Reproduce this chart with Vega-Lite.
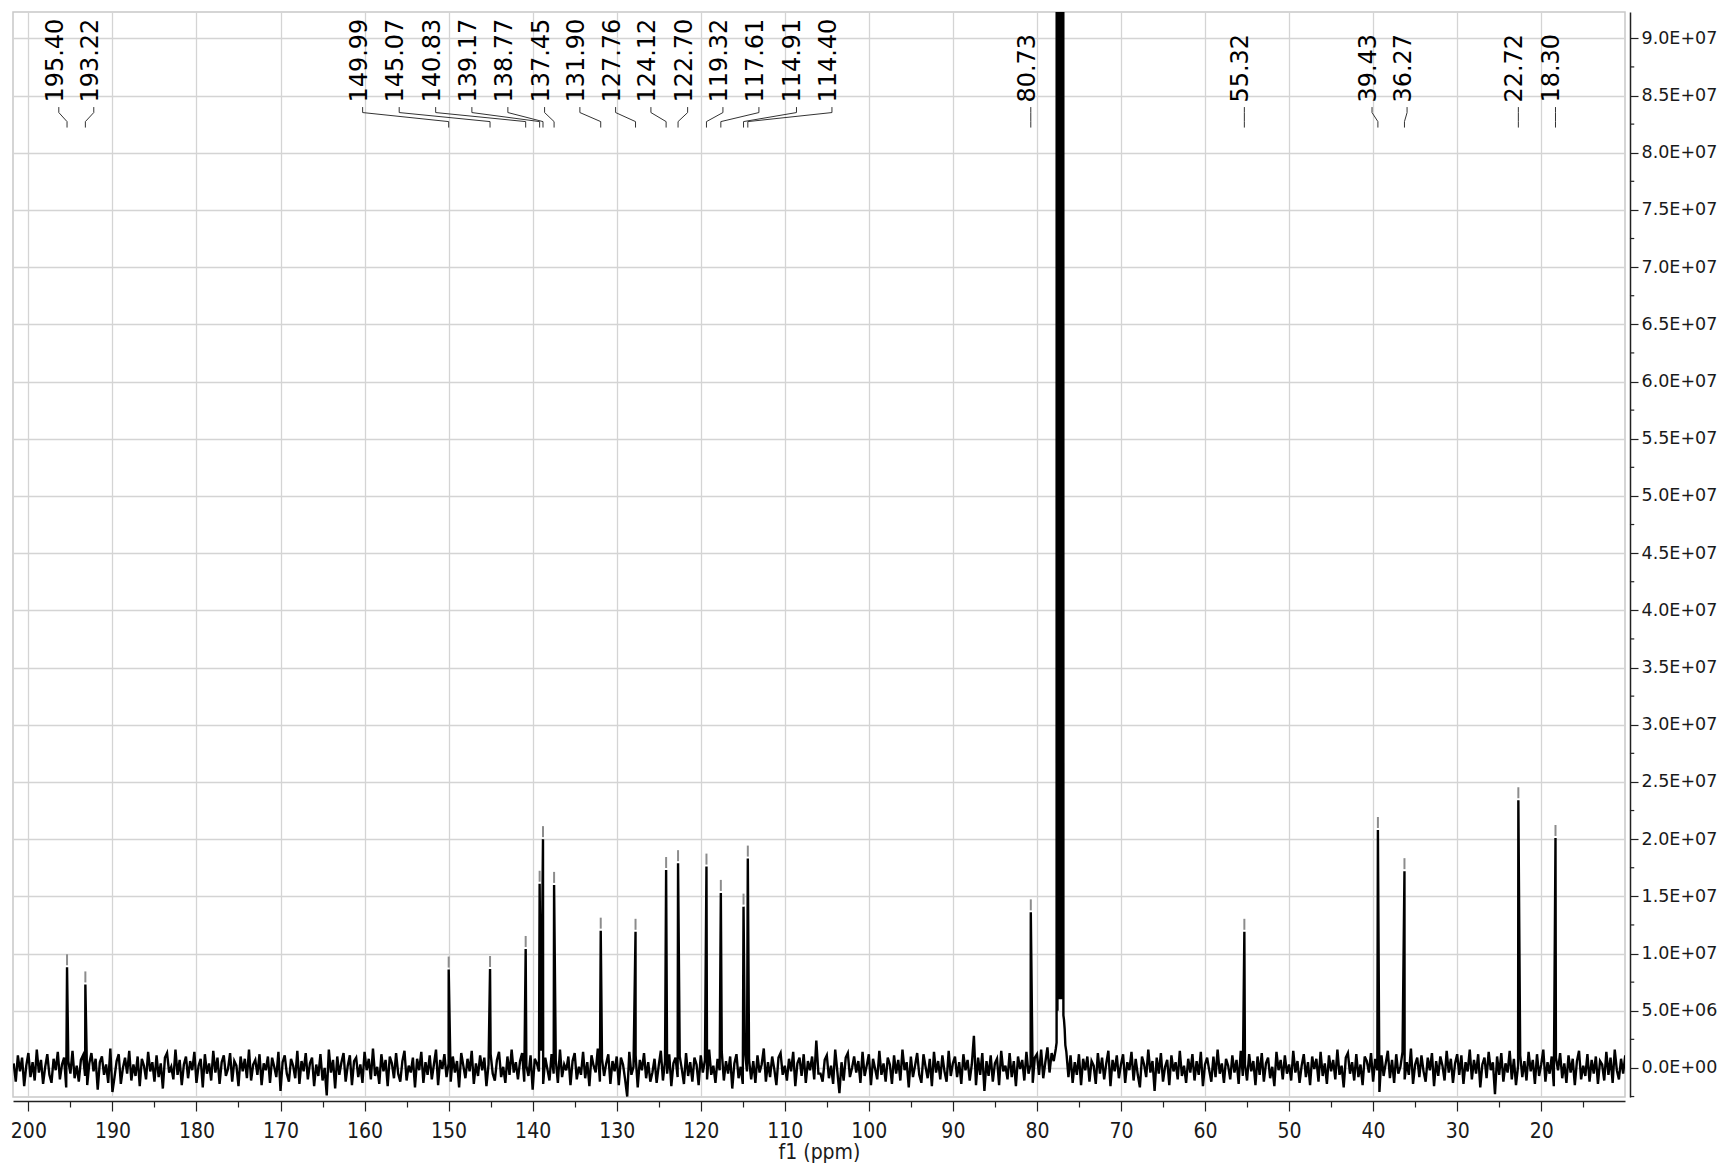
{
"$schema": "https://vega.github.io/schema/vega-lite/v6.json",
"width": 1612, "height": 1085,
"autosize": {"type": "none"},
"padding": {"left": 13, "top": 12, "right": 101, "bottom": 69},
"background": "white",
"config": {"view": {"stroke": "#c8c8c8", "strokeWidth": 1.5}},
"datasets": {
"spec": [
{"x":201.75,"y":0.4},{"x":201.5,"y":-1.2},{"x":201.25,"y":1.1},{"x":201,"y":-0.3},{"x":200.75,"y":0.9},{"x":200.5,"y":-1.6},{"x":200.25,"y":0.2},{"x":200,"y":1.3},{"x":199.75,"y":-0.8},{"x":199.5,"y":0.5},{"x":199.25,"y":-1.1},{"x":199,"y":1.6},{"x":198.75,"y":-0.4},{"x":198.5,"y":0.7},{"x":198.25,"y":-1.4},{"x":198,"y":0.1},
{"x":197.75,"y":1.2},{"x":197.5,"y":-0.6},{"x":197.25,"y":-1.3},{"x":197,"y":0.8},{"x":196.75,"y":-0.2},{"x":196.5,"y":1.4},{"x":196.25,"y":-1.0},{"x":196,"y":0.3},{"x":195.75,"y":0.9},{"x":195.5,"y":-1.7},{"x":195.25,"y":0.6},{"x":195,"y":-0.5},{"x":194.75,"y":1.5},{"x":194.5,"y":-0.9},{"x":194.25,"y":0.2},{"x":194,"y":-1.2},
{"x":193.75,"y":0.7},{"x":193.5,"y":1.1},{"x":193.25,"y":-0.7},{"x":193,"y":-1.5},{"x":192.75,"y":0.4},{"x":192.5,"y":1.3},{"x":192.25,"y":-0.3},{"x":192,"y":0.8},{"x":191.75,"y":-1.9},{"x":191.5,"y":0.5},{"x":191.25,"y":1.0},{"x":191,"y":-0.6},{"x":190.75,"y":0.3},{"x":190.5,"y":-1.3},{"x":190.25,"y":1.7},{"x":190,"y":-2.1},
{"x":189.75,"y":-0.8},{"x":189.5,"y":0.6},{"x":189.25,"y":1.2},{"x":189,"y":-1.4},{"x":188.75,"y":0.0},{"x":188.5,"y":0.9},{"x":188.25,"y":-0.5},{"x":188,"y":1.5},{"x":187.75,"y":-1.1},{"x":187.5,"y":0.3},{"x":187.25,"y":-0.7},{"x":187,"y":1.0},{"x":186.75,"y":-1.6},{"x":186.5,"y":0.8},{"x":186.25,"y":0.2},{"x":186,"y":-1.0},
{"x":185.75,"y":1.4},{"x":185.5,"y":-0.3},{"x":185.25,"y":0.5},{"x":185,"y":-1.2},{"x":184.75,"y":1.1},{"x":184.5,"y":-0.8},{"x":184.25,"y":0.4},{"x":184,"y":-1.8},{"x":183.75,"y":0.9},{"x":183.5,"y":1.3},{"x":183.25,"y":-0.4},{"x":183,"y":0.1},{"x":182.75,"y":-1.0},{"x":182.5,"y":1.6},{"x":182.25,"y":-0.6},{"x":182,"y":0.7},
{"x":181.75,"y":-1.5},{"x":181.5,"y":0.3},{"x":181.25,"y":1.0},{"x":181,"y":-0.9},{"x":180.75,"y":0.6},{"x":180.5,"y":-0.2},{"x":180.25,"y":1.4},{"x":180,"y":-1.3},{"x":179.75,"y":0.2},{"x":179.5,"y":0.8},{"x":179.25,"y":-1.7},{"x":179,"y":1.2},{"x":178.75,"y":-0.5},{"x":178.5,"y":0.4},{"x":178.25,"y":-1.1},{"x":178,"y":1.5},
{"x":177.75,"y":-0.4},{"x":177.5,"y":0.9},{"x":177.25,"y":-1.4},{"x":177,"y":0.5},{"x":176.75,"y":1.1},{"x":176.5,"y":-0.7},{"x":176.25,"y":-0.1},{"x":176,"y":1.3},{"x":175.75,"y":-1.2},{"x":175.5,"y":0.6},{"x":175.25,"y":0.2},{"x":175,"y":-1.6},{"x":174.75,"y":1.0},{"x":174.5,"y":-0.3},{"x":174.25,"y":0.8},{"x":174,"y":-0.9},
{"x":173.75,"y":1.6},{"x":173.5,"y":-1.1},{"x":173.25,"y":0.3},{"x":173,"y":0.7},{"x":172.75,"y":-0.6},{"x":172.5,"y":1.2},{"x":172.25,"y":-1.5},{"x":172,"y":0.4},{"x":171.75,"y":-0.2},{"x":171.5,"y":1.0},{"x":171.25,"y":-1.3},{"x":171,"y":0.9},{"x":170.75,"y":0.1},{"x":170.5,"y":-0.8},{"x":170.25,"y":1.4},{"x":170,"y":-2.0},
{"x":169.75,"y":0.5},{"x":169.5,"y":1.1},{"x":169.25,"y":-0.5},{"x":169,"y":-1.2},{"x":168.75,"y":0.8},{"x":168.5,"y":0.2},{"x":168.25,"y":-0.9},{"x":168,"y":1.5},{"x":167.75,"y":-1.4},{"x":167.5,"y":0.6},{"x":167.25,"y":-0.3},{"x":167,"y":1.3},{"x":166.75,"y":-1.0},{"x":166.5,"y":0.4},{"x":166.25,"y":0.9},{"x":166,"y":-1.6},
{"x":165.75,"y":0.3},{"x":165.5,"y":-0.7},{"x":165.25,"y":1.2},{"x":165,"y":-1.1},{"x":164.75,"y":0.0},{"x":164.5,"y":-2.4},{"x":164.25,"y":1.6},{"x":164,"y":-0.4},{"x":163.75,"y":0.7},{"x":163.5,"y":-1.8},{"x":163.25,"y":1.0},{"x":163,"y":-0.6},{"x":162.75,"y":0.5},{"x":162.5,"y":1.3},{"x":162.25,"y":-1.2},{"x":162,"y":0.2},
{"x":161.75,"y":1.1},{"x":161.5,"y":-1.5},{"x":161.25,"y":0.6},{"x":161,"y":0.9},{"x":160.75,"y":-0.8},{"x":160.5,"y":0.3},{"x":160.25,"y":-1.3},{"x":160,"y":1.4},{"x":159.75,"y":-0.2},{"x":159.5,"y":0.8},{"x":159.25,"y":-1.0},{"x":159,"y":1.7},{"x":158.75,"y":-0.7},{"x":158.5,"y":0.1},{"x":158.25,"y":-1.4},{"x":158,"y":1.2},
{"x":157.75,"y":-0.3},{"x":157.5,"y":0.7},{"x":157.25,"y":-1.6},{"x":157,"y":1.0},{"x":156.75,"y":0.4},{"x":156.5,"y":-0.9},{"x":156.25,"y":1.3},{"x":156,"y":-0.5},{"x":155.75,"y":-1.2},{"x":155.5,"y":0.6},{"x":155.25,"y":1.5},{"x":155,"y":-1.1},{"x":154.75,"y":0.2},{"x":154.5,"y":-0.4},{"x":154.25,"y":0.9},{"x":154,"y":-1.7},
{"x":153.75,"y":0.8},{"x":153.5,"y":-0.2},{"x":153.25,"y":1.4},{"x":153,"y":-1.3},{"x":152.75,"y":0.5},{"x":152.5,"y":-0.6},{"x":152.25,"y":1.1},{"x":152,"y":-1.0},{"x":151.75,"y":0.3},{"x":151.5,"y":1.6},{"x":151.25,"y":-1.5},{"x":151,"y":0.7},{"x":150.75,"y":-0.1},{"x":150.5,"y":1.2},{"x":150.25,"y":-0.8},{"x":150,"y":0.4},
{"x":149.75,"y":-1.2},{"x":149.5,"y":1.0},{"x":149.25,"y":-0.4},{"x":149,"y":0.6},{"x":148.75,"y":-1.7},{"x":148.5,"y":1.3},{"x":148.25,"y":0.2},{"x":148,"y":-0.9},{"x":147.75,"y":0.8},{"x":147.5,"y":-0.3},{"x":147.25,"y":1.5},{"x":147,"y":-1.4},{"x":146.75,"y":0.4},{"x":146.5,"y":-0.7},{"x":146.25,"y":1.1},{"x":146,"y":-0.2},
{"x":145.75,"y":0.9},{"x":145.5,"y":-1.6},{"x":145.25,"y":0.3},{"x":145,"y":1.2},{"x":144.75,"y":-0.5},{"x":144.5,"y":-1.1},{"x":144.25,"y":0.7},{"x":144,"y":1.4},{"x":143.75,"y":-0.8},{"x":143.5,"y":0.1},{"x":143.25,"y":-1.3},{"x":143,"y":1.0},{"x":142.75,"y":-0.6},{"x":142.5,"y":1.6},{"x":142.25,"y":-0.4},{"x":142,"y":0.5},
{"x":141.75,"y":-1.0},{"x":141.5,"y":0.6},{"x":141.25,"y":1.3},{"x":141,"y":-1.2},{"x":140.75,"y":0.2},{"x":140.5,"y":-0.7},{"x":140.25,"y":1.1},{"x":140,"y":-1.9},{"x":139.75,"y":0.8},{"x":139.5,"y":0.4},{"x":139.25,"y":-0.3},{"x":139,"y":1.5},{"x":138.75,"y":-1.4},{"x":138.5,"y":0.9},{"x":138.25,"y":-0.1},{"x":138,"y":-1.1},
{"x":137.75,"y":1.2},{"x":137.5,"y":-0.5},{"x":137.25,"y":0.7},{"x":137,"y":-1.3},{"x":136.75,"y":1.6},{"x":136.5,"y":-0.8},{"x":136.25,"y":0.3},{"x":136,"y":-0.2},{"x":135.75,"y":1.0},{"x":135.5,"y":-1.5},{"x":135.25,"y":0.6},{"x":135,"y":1.3},{"x":134.75,"y":-1.0},{"x":134.5,"y":0.1},{"x":134.25,"y":-0.6},{"x":134,"y":1.4},
{"x":133.75,"y":-0.9},{"x":133.5,"y":0.5},{"x":133.25,"y":-1.6},{"x":133,"y":1.1},{"x":132.75,"y":0.2},{"x":132.5,"y":-0.4},{"x":132.25,"y":1.7},{"x":132,"y":-1.2},{"x":131.75,"y":0.8},{"x":131.5,"y":-0.7},{"x":131.25,"y":0.4},{"x":131,"y":1.2},{"x":130.75,"y":-1.4},{"x":130.5,"y":0.6},{"x":130.25,"y":-0.3},{"x":130,"y":1.0},
{"x":129.75,"y":-1.5},{"x":129.5,"y":0.9},{"x":129.25,"y":0.3},{"x":129,"y":-1.0},{"x":128.75,"y":-2.5},{"x":128.5,"y":1.4},{"x":128.25,"y":-0.6},{"x":128,"y":0.1},{"x":127.75,"y":1.1},{"x":127.5,"y":-1.7},{"x":127.25,"y":0.7},{"x":127,"y":-0.2},{"x":126.75,"y":1.3},{"x":126.5,"y":-0.9},{"x":126.25,"y":0.5},{"x":126,"y":-1.2},
{"x":125.75,"y":-0.4},{"x":125.5,"y":0.8},{"x":125.25,"y":-1.3},{"x":125,"y":0.2},{"x":124.75,"y":1.5},{"x":124.5,"y":-1.1},{"x":124.25,"y":0.6},{"x":124,"y":-0.5},{"x":123.75,"y":1.2},{"x":123.5,"y":-1.6},{"x":123.25,"y":0.4},{"x":123,"y":0.9},{"x":122.75,"y":-0.8},{"x":122.5,"y":1.0},{"x":122.25,"y":-0.1},{"x":122,"y":-1.4},
{"x":121.75,"y":1.3},{"x":121.5,"y":-0.7},{"x":121.25,"y":0.5},{"x":121,"y":-1.2},{"x":120.75,"y":0.9},{"x":120.5,"y":0.3},{"x":120.25,"y":-1.5},{"x":120,"y":1.1},{"x":119.75,"y":-0.4},{"x":119.5,"y":0.7},{"x":119.25,"y":-1.0},{"x":119,"y":1.6},{"x":118.75,"y":-0.6},{"x":118.5,"y":0.2},{"x":118.25,"y":-1.3},{"x":118,"y":0.8},
{"x":117.75,"y":-0.2},{"x":117.5,"y":1.4},{"x":117.25,"y":-1.1},{"x":117,"y":0.6},{"x":116.75,"y":-0.5},{"x":116.5,"y":1.0},{"x":116.25,"y":-1.8},{"x":116,"y":0.4},{"x":115.75,"y":1.2},{"x":115.5,"y":-0.9},{"x":115.25,"y":0.1},{"x":115,"y":-1.4},{"x":114.75,"y":1.5},{"x":114.5,"y":-0.3},{"x":114.25,"y":0.7},{"x":114,"y":-1.0},
{"x":113.75,"y":0.6},{"x":113.5,"y":-1.3},{"x":113.25,"y":1.1},{"x":113,"y":-0.4},{"x":112.75,"y":0.3},{"x":112.5,"y":1.7},{"x":112.25,"y":-1.2},{"x":112,"y":0.5},{"x":111.75,"y":-0.8},{"x":111.5,"y":1.0},{"x":111.25,"y":-0.1},{"x":111,"y":-1.5},{"x":110.75,"y":0.9},{"x":110.5,"y":1.3},{"x":110.25,"y":-0.6},{"x":110,"y":0.2},
{"x":109.75,"y":-1.1},{"x":109.5,"y":0.8},{"x":109.25,"y":-0.3},{"x":109,"y":1.4},{"x":108.75,"y":-1.6},{"x":108.5,"y":0.4},{"x":108.25,"y":0.9},{"x":108,"y":-0.7},{"x":107.75,"y":1.2},{"x":107.5,"y":-1.3},{"x":107.25,"y":0.6},{"x":107,"y":-0.2},{"x":106.75,"y":1.0},{"x":106.5,"y":-1.0},{"x":106.25,"y":2.4},{"x":106,"y":-0.5},
{"x":105.75,"y":-0.5},{"x":105.5,"y":-1.2},{"x":105.25,"y":0.7},{"x":105,"y":1.1},{"x":104.75,"y":-0.9},{"x":104.5,"y":0.2},{"x":104.25,"y":-1.4},{"x":104,"y":1.6},{"x":103.75,"y":-0.3},{"x":103.5,"y":-2.2},{"x":103.25,"y":0.5},{"x":103,"y":-1.1},{"x":102.75,"y":0.9},{"x":102.5,"y":1.3},{"x":102.25,"y":-0.8},{"x":102,"y":0.0},
{"x":101.75,"y":1.0},{"x":101.5,"y":-0.4},{"x":101.25,"y":0.6},{"x":101,"y":-1.3},{"x":100.75,"y":1.4},{"x":100.5,"y":-0.7},{"x":100.25,"y":0.2},{"x":100,"y":1.2},{"x":99.75,"y":-1.5},{"x":99.5,"y":0.8},{"x":99.25,"y":-0.1},{"x":99,"y":-1.0},{"x":98.75,"y":1.5},{"x":98.5,"y":-0.6},{"x":98.25,"y":0.4},{"x":98,"y":-1.2},
{"x":97.75,"y":0.9},{"x":97.5,"y":0.3},{"x":97.25,"y":-1.4},{"x":97,"y":1.1},{"x":96.75,"y":-0.5},{"x":96.5,"y":0.7},{"x":96.25,"y":-1.1},{"x":96,"y":1.6},{"x":95.75,"y":-0.2},{"x":95.5,"y":0.5},{"x":95.25,"y":-1.7},{"x":95,"y":1.0},{"x":94.75,"y":-0.8},{"x":94.5,"y":0.2},{"x":94.25,"y":1.3},{"x":94,"y":-0.6},
{"x":93.75,"y":-1.3},{"x":93.5,"y":1.2},{"x":93.25,"y":0.1},{"x":93,"y":-0.9},{"x":92.75,"y":0.8},{"x":92.5,"y":-1.6},{"x":92.25,"y":1.4},{"x":92,"y":-0.4},{"x":91.75,"y":0.6},{"x":91.5,"y":-1.0},{"x":91.25,"y":1.1},{"x":91,"y":-0.3},{"x":90.75,"y":-1.2},{"x":90.5,"y":1.5},{"x":90.25,"y":-0.7},{"x":90,"y":0.4},
{"x":89.75,"y":1.0},{"x":89.5,"y":-0.8},{"x":89.25,"y":0.5},{"x":89,"y":-1.4},{"x":88.75,"y":1.2},{"x":88.5,"y":-0.2},{"x":88.25,"y":0.7},{"x":88,"y":-1.1},{"x":87.75,"y":0.3},{"x":87.5,"y":2.8},{"x":87.25,"y":-1.5},{"x":87,"y":0.9},{"x":86.75,"y":-0.6},{"x":86.5,"y":1.3},{"x":86.25,"y":-2.0},{"x":86,"y":0.6},
{"x":85.75,"y":-0.7},{"x":85.5,"y":1.1},{"x":85.25,"y":-1.2},{"x":85,"y":0.4},{"x":84.75,"y":0.8},{"x":84.5,"y":-1.5},{"x":84.25,"y":1.5},{"x":84,"y":-0.3},{"x":83.75,"y":0.2},{"x":83.5,"y":-1.0},{"x":83.25,"y":1.3},{"x":83,"y":-0.8},{"x":82.75,"y":0.6},{"x":82.5,"y":-1.6},{"x":82.25,"y":1.0},{"x":82,"y":-0.1},
{"x":81.75,"y":0.7},{"x":81.5,"y":-1.1},{"x":81.25,"y":1.4},{"x":81,"y":-0.5},{"x":80.75,"y":0.3},{"x":80.5,"y":-1.3},{"x":80.25,"y":0.9},{"x":80,"y":1.2},{"x":79.75,"y":-0.6},{"x":79.5,"y":1.6},{"x":79.25,"y":-0.9},{"x":79,"y":0.5},{"x":78.75,"y":1.8},{"x":78.5,"y":-0.4},{"x":78.25,"y":1.3},{"x":78,"y":0.6},
{"x":77.75,"y":1.7},{"x":77.66,"y":2.2},{"x":77.62,"y":400},{"x":77.56,"y":5},{"x":77.5,"y":400},{"x":77.44,"y":6},{"x":77.38,"y":400},{"x":77.32,"y":6},{"x":77.26,"y":400},{"x":77.2,"y":6},{"x":77.14,"y":400},{"x":77.08,"y":6},{"x":77.02,"y":400},{"x":76.96,"y":6},{"x":76.9,"y":400},{"x":76.85,"y":4.6},{"x":76.78,"y":4.2},{"x":76.7,"y":3.4},{"x":76.62,"y":2.0},
{"x":76.5,"y":1.4},{"x":76.25,"y":-0.8},{"x":76,"y":1.1},{"x":75.75,"y":-1.3},{"x":75.5,"y":0.5},{"x":75.25,"y":-0.6},{"x":75,"y":1.2},{"x":74.75,"y":-1.5},{"x":74.5,"y":0.8},{"x":74.25,"y":-0.2},{"x":74,"y":1.0},
{"x":73.75,"y":-1.2},{"x":73.5,"y":0.6},{"x":73.25,"y":0.2},{"x":73,"y":-1.4},{"x":72.75,"y":1.3},{"x":72.5,"y":-0.5},{"x":72.25,"y":0.9},{"x":72,"y":-1.0},{"x":71.75,"y":0.4},{"x":71.5,"y":1.5},{"x":71.25,"y":-1.6},{"x":71,"y":0.7},{"x":70.75,"y":-0.3},{"x":70.5,"y":1.1},{"x":70.25,"y":-0.9},{"x":70,"y":0.3},
{"x":69.75,"y":1.2},{"x":69.5,"y":-1.3},{"x":69.25,"y":0.5},{"x":69,"y":-0.2},{"x":68.75,"y":1.4},{"x":68.5,"y":-1.1},{"x":68.25,"y":0.8},{"x":68,"y":-0.6},{"x":67.75,"y":-1.7},{"x":67.5,"y":1.0},{"x":67.25,"y":0.3},{"x":67,"y":-0.8},{"x":66.75,"y":1.6},{"x":66.5,"y":-0.4},{"x":66.25,"y":0.6},{"x":66,"y":-2.0},
{"x":65.75,"y":0.9},{"x":65.5,"y":-0.5},{"x":65.25,"y":1.3},{"x":65,"y":-1.2},{"x":64.75,"y":0.1},{"x":64.5,"y":0.7},{"x":64.25,"y":-1.5},{"x":64,"y":1.1},{"x":63.75,"y":-0.3},{"x":63.5,"y":0.5},{"x":63.25,"y":-1.0},{"x":63,"y":1.5},{"x":62.75,"y":-0.7},{"x":62.5,"y":0.2},{"x":62.25,"y":-1.3},{"x":62,"y":0.8},
{"x":61.75,"y":-0.4},{"x":61.5,"y":1.2},{"x":61.25,"y":-1.1},{"x":61,"y":0.6},{"x":60.75,"y":-0.6},{"x":60.5,"y":1.4},{"x":60.25,"y":-1.6},{"x":60,"y":0.3},{"x":59.75,"y":0.9},{"x":59.5,"y":-0.2},{"x":59.25,"y":-1.2},{"x":59,"y":1.0},{"x":58.75,"y":-0.8},{"x":58.5,"y":1.6},{"x":58.25,"y":-0.5},{"x":58,"y":0.4},
{"x":57.75,"y":-1.3},{"x":57.5,"y":0.8},{"x":57.25,"y":0.2},{"x":57,"y":-1.0},{"x":56.75,"y":1.1},{"x":56.5,"y":-0.4},{"x":56.25,"y":0.7},{"x":56,"y":-1.4},{"x":55.75,"y":1.5},{"x":55.5,"y":-0.7},{"x":55.25,"y":0.3},{"x":55,"y":-1.1},{"x":54.75,"y":1.2},{"x":54.5,"y":-0.3},{"x":54.25,"y":0.6},{"x":54,"y":-1.5},
{"x":53.75,"y":1.0},{"x":53.5,"y":-0.6},{"x":53.25,"y":1.3},{"x":53,"y":-1.2},{"x":52.75,"y":0.4},{"x":52.5,"y":0.9},{"x":52.25,"y":-0.9},{"x":52,"y":0.1},{"x":51.75,"y":-1.6},{"x":51.5,"y":1.4},{"x":51.25,"y":-0.2},{"x":51,"y":0.7},{"x":50.75,"y":-1.0},{"x":50.5,"y":1.1},{"x":50.25,"y":-0.5},{"x":50,"y":0.3},
{"x":49.75,"y":-1.1},{"x":49.5,"y":1.5},{"x":49.25,"y":-0.4},{"x":49,"y":0.6},{"x":48.75,"y":-1.3},{"x":48.5,"y":0.2},{"x":48.25,"y":1.2},{"x":48,"y":-0.8},{"x":47.75,"y":0.5},{"x":47.5,"y":-1.5},{"x":47.25,"y":1.0},{"x":47,"y":-0.1},{"x":46.75,"y":0.8},{"x":46.5,"y":-1.2},{"x":46.25,"y":1.4},{"x":46,"y":-0.7},
{"x":45.75,"y":0.4},{"x":45.5,"y":-1.4},{"x":45.25,"y":1.1},{"x":45,"y":-0.3},{"x":44.75,"y":0.7},{"x":44.5,"y":-1.0},{"x":44.25,"y":1.6},{"x":44,"y":-0.6},{"x":43.75,"y":0.2},{"x":43.5,"y":-1.7},{"x":43.25,"y":0.9},{"x":43,"y":1.3},{"x":42.75,"y":-0.5},{"x":42.5,"y":0.5},{"x":42.25,"y":-1.1},{"x":42,"y":1.2},
{"x":41.75,"y":-0.8},{"x":41.5,"y":0.3},{"x":41.25,"y":-1.5},{"x":41,"y":1.0},{"x":40.75,"y":0.6},{"x":40.5,"y":-0.4},{"x":40.25,"y":1.3},{"x":40,"y":-1.2},{"x":39.75,"y":0.8},{"x":39.5,"y":-0.2},{"x":39.25,"y":-2.1},{"x":39,"y":1.1},{"x":38.75,"y":-0.7},{"x":38.5,"y":0.4},{"x":38.25,"y":1.5},{"x":38,"y":-0.9},
{"x":37.75,"y":0.7},{"x":37.5,"y":-1.3},{"x":37.25,"y":1.2},{"x":37,"y":-0.5},{"x":36.75,"y":0.1},{"x":36.5,"y":1.4},{"x":36.25,"y":-1.0},{"x":36,"y":0.5},{"x":35.75,"y":-0.6},{"x":35.5,"y":1.7},{"x":35.25,"y":-1.4},{"x":35,"y":0.3},{"x":34.75,"y":0.9},{"x":34.5,"y":-0.8},{"x":34.25,"y":1.1},{"x":34,"y":-0.3},
{"x":33.75,"y":-1.2},{"x":33.5,"y":0.9},{"x":33.25,"y":-0.2},{"x":33,"y":1.3},{"x":32.75,"y":-1.6},{"x":32.5,"y":0.6},{"x":32.25,"y":-0.7},{"x":32,"y":1.0},{"x":31.75,"y":0.2},{"x":31.5,"y":-1.1},{"x":31.25,"y":1.5},{"x":31,"y":-0.4},{"x":30.75,"y":0.8},{"x":30.5,"y":-1.3},{"x":30.25,"y":0.4},{"x":30,"y":1.2},
{"x":29.75,"y":-0.6},{"x":29.5,"y":1.1},{"x":29.25,"y":-1.4},{"x":29,"y":0.5},{"x":28.75,"y":-0.3},{"x":28.5,"y":1.6},{"x":28.25,"y":-1.0},{"x":28,"y":0.7},{"x":27.75,"y":-0.5},{"x":27.5,"y":1.2},{"x":27.25,"y":-1.7},{"x":27,"y":0.3},{"x":26.75,"y":0.9},{"x":26.5,"y":-0.9},{"x":26.25,"y":1.4},{"x":26,"y":-0.2},
{"x":25.75,"y":0.5},{"x":25.5,"y":-2.3},{"x":25.25,"y":1.0},{"x":25,"y":-0.6},{"x":24.75,"y":1.3},{"x":24.5,"y":-1.2},{"x":24.25,"y":0.4},{"x":24,"y":-0.4},{"x":23.75,"y":1.5},{"x":23.5,"y":-1.0},{"x":23.25,"y":0.8},{"x":23,"y":-1.5},{"x":22.75,"y":0.2},{"x":22.5,"y":1.1},{"x":22.25,"y":-0.8},{"x":22,"y":0.6},
{"x":21.75,"y":-1.1},{"x":21.5,"y":1.4},{"x":21.25,"y":-0.3},{"x":21,"y":0.7},{"x":20.75,"y":-1.4},{"x":20.5,"y":1.2},{"x":20.25,"y":-0.7},{"x":20,"y":0.3},{"x":19.75,"y":1.6},{"x":19.5,"y":-1.2},{"x":19.25,"y":0.5},{"x":19,"y":-0.5},{"x":18.75,"y":1.0},{"x":18.5,"y":-1.6},{"x":18.25,"y":0.9},{"x":18,"y":-0.2},
{"x":17.75,"y":1.3},{"x":17.5,"y":-0.9},{"x":17.25,"y":0.4},{"x":17,"y":-1.3},{"x":16.75,"y":1.1},{"x":16.5,"y":-0.4},{"x":16.25,"y":0.8},{"x":16,"y":-1.5},{"x":15.75,"y":0.6},{"x":15.5,"y":1.5},{"x":15.25,"y":-1.0},{"x":15,"y":0.2},{"x":14.75,"y":-0.7},{"x":14.5,"y":1.2},{"x":14.25,"y":-1.2},{"x":14,"y":0.7},
{"x":13.75,"y":-0.5},{"x":13.5,"y":1.0},{"x":13.25,"y":-1.4},{"x":13,"y":0.6},{"x":12.75,"y":0.3},{"x":12.5,"y":-1.1},{"x":12.25,"y":1.4},{"x":12,"y":-0.6},{"x":11.75,"y":0.9},{"x":11.5,"y":-1.3},{"x":11.25,"y":1.6},{"x":11,"y":-0.2},{"x":10.75,"y":-1.0},{"x":10.5,"y":0.8},{"x":10.25,"y":-0.5},{"x":10,"y":1.1},
{"x":195.4,"y":8.8},{"x":193.22,"y":7.3},{"x":149.99,"y":8.6},{"x":145.07,"y":8.65},{"x":140.83,"y":10.4},{"x":139.17,"y":16.1},{"x":138.77,"y":20.0},{"x":137.45,"y":16.0},{"x":131.9,"y":12.0},{"x":127.76,"y":11.9},{"x":124.12,"y":17.3},{"x":122.7,"y":17.9},{"x":119.32,"y":17.6},{"x":117.61,"y":15.3},{"x":114.91,"y":14.1},{"x":114.4,"y":18.3},{"x":80.73,"y":13.6},{"x":55.32,"y":11.9},{"x":39.43,"y":20.8},{"x":36.27,"y":17.2},{"x":22.72,"y":23.4},{"x":18.3,"y":20.1}
],
"peaks": [
{"p":195.40,"h":8.8,"lx":196.38,"t":"195.40"},
{"p":193.22,"h":7.3,"lx":192.22,"t":"193.22"},
{"p":149.99,"h":8.6,"lx":160.23,"t":"149.99"},
{"p":145.07,"h":8.65,"lx":155.88,"t":"145.07"},
{"p":140.83,"h":10.4,"lx":151.54,"t":"140.83"},
{"p":139.17,"h":16.1,"lx":147.23,"t":"139.17"},
{"p":138.77,"h":20.0,"lx":142.95,"t":"138.77"},
{"p":137.45,"h":16.0,"lx":138.58,"t":"137.45"},
{"p":131.90,"h":12.0,"lx":134.38,"t":"131.90"},
{"p":127.76,"h":11.9,"lx":130.13,"t":"127.76"},
{"p":124.12,"h":17.3,"lx":125.93,"t":"124.12"},
{"p":122.70,"h":17.9,"lx":121.56,"t":"122.70"},
{"p":119.32,"h":17.6,"lx":117.36,"t":"119.32"},
{"p":117.61,"h":15.3,"lx":113.08,"t":"117.61"},
{"p":114.91,"h":14.1,"lx":108.61,"t":"114.91"},
{"p":114.40,"h":18.3,"lx":104.39,"t":"114.40"},
{"p":80.73,"h":13.6,"lx":80.73,"t":"80.73"},
{"p":55.32,"h":11.9,"lx":55.32,"t":"55.32"},
{"p":39.43,"h":20.8,"lx":40.13,"t":"39.43"},
{"p":36.27,"h":17.2,"lx":35.96,"t":"36.27"},
{"p":22.72,"h":23.4,"lx":22.72,"t":"22.72"},
{"p":18.30,"h":20.1,"lx":18.30,"t":"18.30"}
],
"minor": [
{"m":-2.5},{"m":2.5},{"m":7.5},{"m":12.5},{"m":17.5},{"m":22.5},{"m":27.5},{"m":32.5},{"m":37.5},{"m":42.5},{"m":47.5},{"m":52.5},{"m":57.5},{"m":62.5},{"m":67.5},{"m":72.5},{"m":77.5},{"m":82.5},{"m":87.5}
]
},
"layer": [
{
"data": {"name": "spec"},
"mark": {"type": "line", "color": "#000000", "strokeWidth": 2.4, "clip": true},
"encoding": {
"x": {"field": "x", "type": "quantitative",
 "scale": {"domain": [10.03, 201.83], "reverse": true, "nice": false, "zero": false},
 "axis": {
  "orient": "bottom", "offset": 4, "title": "f1 (ppm)",
  "values": [15,20,25,30,35,40,45,50,55,60,65,70,75,80,85,90,95,100,105,110,115,120,125,130,135,140,145,150,155,160,165,170,175,180,185,190,195,200],
  "domainColor": "#222222", "domainWidth": 1.5,
  "tickColor": "#222222", "tickWidth": 1.2,
  "tickSize": {"condition": {"test": "datum.value % 10 === 0", "value": 10}, "value": 6},
  "grid": true, "gridColor": "#d4d4d4", "gridWidth": 1.3,
  "gridOpacity": {"condition": {"test": "datum.value % 10 === 0", "value": 1}, "value": 0},
  "labelExpr": "datum.value % 10 === 0 ? datum.label : ''",
  "labelFont": "DejaVu Sans Condensed, Roboto Condensed, Roboto", "labelFontSize": 21, "labelColor": "#1a1a1a",
  "labelPadding": 9, "labelOverlap": false, "labelFlush": false,
  "titleFont": "DejaVu Sans Condensed, Roboto Condensed, Roboto", "titleFontSize": 21, "titleFontWeight": "normal",
  "titleColor": "#1a1a1a", "titlePadding": 0
 }},
"y": {"field": "y", "type": "quantitative",
 "scale": {"domain": [-2.54, 92.3], "nice": false, "zero": false},
 "axis": {
  "orient": "right", "offset": 5, "title": null,
  "values": [0,5,10,15,20,25,30,35,40,45,50,55,60,65,70,75,80,85,90],
  "domainColor": "#222222", "domainWidth": 1.5,
  "tickColor": "#222222", "tickWidth": 1.2, "tickSize": 8,
  "grid": true, "gridColor": "#d4d4d4", "gridWidth": 1.3,
  "labelExpr": "datum.value === 0 ? '0.0E+00' : (datum.value < 10 ? format(datum.value, '.1f') + 'E+06' : format(datum.value / 10, '.1f') + 'E+07')",
  "labelFont": "DejaVu Sans", "labelFontSize": 17.5, "labelColor": "#1a1a1a",
  "labelPadding": 3, "labelOverlap": false, "labelFlush": false
 }},
"order": {"field": "x", "type": "quantitative"}
}
},
{
"data": {"name": "minor"},
"mark": {"type": "rule", "color": "#222222", "strokeWidth": 1.2},
"encoding": {
"x": {"datum": 9.44, "type": "quantitative"},
"x2": {"datum": 8.93},
"y": {"field": "m", "type": "quantitative", "axis": {"orient": "right"}}
}
},
{
"data": {"name": "peaks"},
"mark": {"type": "rule", "color": "#8c8c8c", "strokeWidth": 2, "yOffset": -2, "y2Offset": -13},
"encoding": {
"x": {"field": "p", "type": "quantitative"},
"y": {"field": "h", "type": "quantitative", "axis": {"orient": "right"}},
"y2": {"field": "h"}
}
},
{
"data": {"name": "peaks"},
"mark": {"type": "rule", "color": "#333333", "strokeWidth": 1},
"encoding": {
"x": {"field": "lx", "type": "quantitative"},
"y": {"datum": 83.99, "type": "quantitative", "axis": {"orient": "right"}},
"y2": {"datum": 83.51}
}
},
{
"data": {"name": "peaks"},
"mark": {"type": "rule", "color": "#333333", "strokeWidth": 1},
"encoding": {
"x": {"field": "lx", "type": "quantitative"},
"x2": {"field": "p"},
"y": {"datum": 83.51, "type": "quantitative", "axis": {"orient": "right"}},
"y2": {"datum": 82.72}
}
},
{
"data": {"name": "peaks"},
"mark": {"type": "rule", "color": "#333333", "strokeWidth": 1},
"encoding": {
"x": {"field": "p", "type": "quantitative"},
"y": {"datum": 82.72, "type": "quantitative", "axis": {"orient": "right"}},
"y2": {"datum": 82.2}
}
},
{
"data": {"name": "peaks"},
"mark": {"type": "text", "angle": 270, "align": "left", "baseline": "middle", "font": "DejaVu Sans", "fontSize": 24, "color": "#000000", "dy": -3},
"encoding": {
"x": {"field": "lx", "type": "quantitative"},
"y": {"datum": 84.38, "type": "quantitative", "axis": {"orient": "right"}},
"text": {"field": "t"}
}
}
]
}
